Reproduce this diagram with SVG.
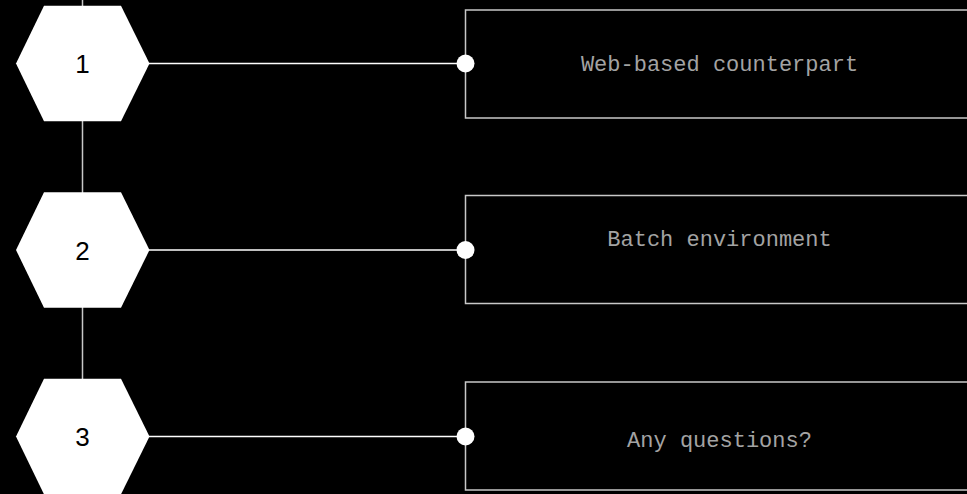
<svg xmlns="http://www.w3.org/2000/svg" width="967" height="494" viewBox="0 0 967 494">
<style>
.hex{fill:#ffffff;}
.num{font-family:"Liberation Sans",Arial,sans-serif;font-size:26px;fill:#000000;text-anchor:middle;}
.box{fill:#000000;stroke:#c8c8c8;stroke-width:1.5;}
.lbl{font-family:"Liberation Mono","DejaVu Sans Mono",monospace;font-size:22px;fill:#a3a3a3;text-anchor:middle;}
.conn{stroke:#ffffff;stroke-width:1.5;fill:none;}
.spine{stroke:#c8c8c8;stroke-width:1.5;fill:none;}
.dot{fill:#ffffff;}
</style>
<rect x="0" y="0" width="967" height="494" fill="#000000"/>
<g id="connectors">
<line class="spine" x1="82.5" y1="0" x2="82.5" y2="494"/>
<line class="conn" x1="149" y1="63.5" x2="465.5" y2="63.5"/>
<line class="conn" x1="149" y1="250" x2="465.5" y2="250"/>
<line class="conn" x1="149" y1="436.5" x2="465.5" y2="436.5"/>
</g>
<g id="box1">
<rect class="box" x="465.5" y="10" width="520" height="108"/>
<text class="lbl" x="719.5" y="70.5">Web-based counterpart</text>
</g>
<g id="box2">
<rect class="box" x="465.5" y="195.5" width="520" height="108"/>
<text class="lbl" x="719.5" y="245.5">Batch environment</text>
</g>
<g id="box3">
<rect class="box" x="465.5" y="382" width="520" height="108"/>
<text class="lbl" x="719.5" y="446.5">Any questions?</text>
</g>
<g id="hex1">
<polygon class="hex" points="44,5.7 121,5.7 149.5,63.5 121,121.3 44,121.3 16,63.5"/>
<text class="num" x="82.5" y="73">1</text>
</g>
<g id="hex2">
<polygon class="hex" points="44,192.2 121,192.2 149.5,250 121,307.8 44,307.8 16,250"/>
<text class="num" x="82.5" y="260">2</text>
</g>
<g id="hex3">
<polygon class="hex" points="44,378.7 121,378.7 149.5,436.5 121,494.3 44,494.3 16,436.5"/>
<text class="num" x="82.5" y="446">3</text>
</g>
<g id="dots">
<circle class="dot" cx="465.5" cy="63.5" r="9"/>
<circle class="dot" cx="465.5" cy="250" r="9"/>
<circle class="dot" cx="465.5" cy="436.5" r="9"/>
</g>
</svg>
